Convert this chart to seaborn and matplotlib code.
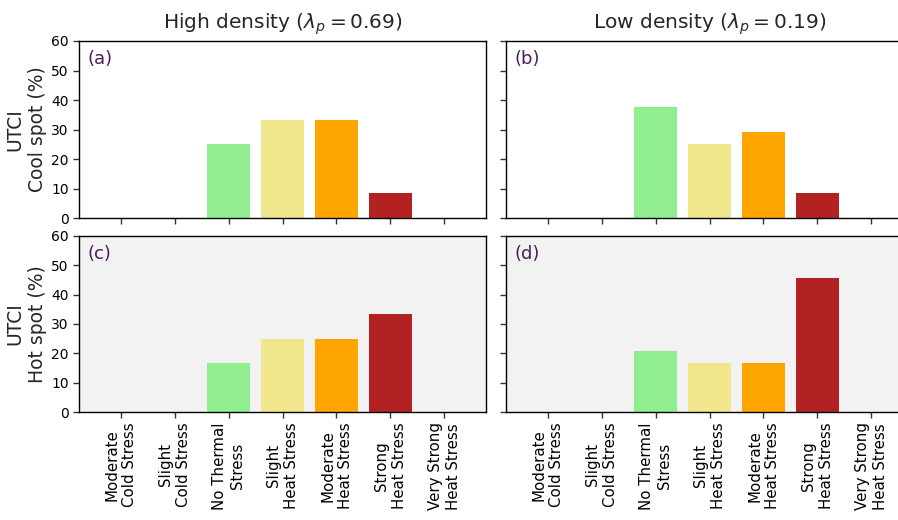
import matplotlib
matplotlib.use("Agg")
import matplotlib.pyplot as plt
import seaborn as sns
import pandas as pd

# UTCI thermal stress categories
categories = [
    "Moderate\nCold Stress", "Slight\nCold Stress", "No Thermal\nStress",
    "Slight\nHeat Stress", "Moderate\nHeat Stress", "Strong\nHeat Stress",
    "Very Strong\nHeat Stress",
]
colors = ["#6baed6", "#c6dbef", "lightgreen", "khaki", "orange", "firebrick", "darkred"]

# Percentage of spots per category
cool_high = [0, 0, 25.0, 33.33, 33.33, 8.33, 0]
cool_low = [0, 0, 37.5, 25.0, 29.17, 8.33, 0]
hot_high = [0, 0, 16.67, 25.0, 25.0, 33.33, 0]
hot_low = [0, 0, 20.83, 16.67, 16.67, 45.83, 0]

col_titles = [r"High density ($\lambda_p = 0.69$)", r"Low density ($\lambda_p = 0.19$)"]
row_labels = ["UTCI\nCool spot (%)", "UTCI\nHot spot (%)"]
panel_tags = ["(a)", "(b)", "(c)", "(d)"]

sns.set_style("ticks")
plt.rcParams["axes.edgecolor"] = "black"
plt.rcParams["xtick.color"] = "black"
plt.rcParams["ytick.color"] = "black"

W, H = 898, 520
fig = plt.figure(figsize=(W / 100, H / 100), dpi=100)

lefts = [79 / W, 506 / W]
width = 407 / W
rows = [(1 - 218 / H, 177 / H), (1 - 412 / H, 176 / H)]

data = [[cool_high, cool_low], [hot_high, hot_low]]
palette = dict(zip(categories, colors))

for r in range(2):
    for c in range(2):
        ax = fig.add_axes([lefts[c], rows[r][0], width, rows[r][1]])
        df = pd.DataFrame({"category": categories, "value": data[r][c]})
        sns.barplot(data=df, x="category", y="value", hue="category",
                    palette=palette, order=categories, hue_order=categories,
                    width=0.8, saturation=1, linewidth=0, edgecolor="none",
                    legend=False, ax=ax)
        ax.set_xlim(-0.77, 6.77)
        ax.set_ylim(0, 60)
        ax.set_yticks(range(0, 61, 10))
        ax.tick_params(axis="both", labelsize=10, length=4, width=1, color="#333333")
        ax.set_xlabel("")
        ax.set_ylabel("")
        ax.set_xticks(range(len(categories)))
        if r == 1:
            ax.set_facecolor("#f2f2f2")
            ax.set_xticklabels(categories, rotation=90, fontsize=10.8,
                               ha="center", va="top", multialignment="center")
        else:
            ax.set_xticklabels([])
        if c == 1:
            ax.set_yticklabels([])
        else:
            ax.set_ylabel(row_labels[r], fontsize=13.5, labelpad=3)
        if r == 0:
            ax.set_title(col_titles[c], fontsize=14.5, pad=9)
        for s in ax.spines.values():
            s.set_linewidth(1.0)
            s.set_color("black")
        ax.text(0.02, 0.9, panel_tags[r * 2 + c], transform=ax.transAxes,
                fontsize=13, color="#4a1f55", va="center", ha="left")

fig.savefig("out.png", dpi=100)
